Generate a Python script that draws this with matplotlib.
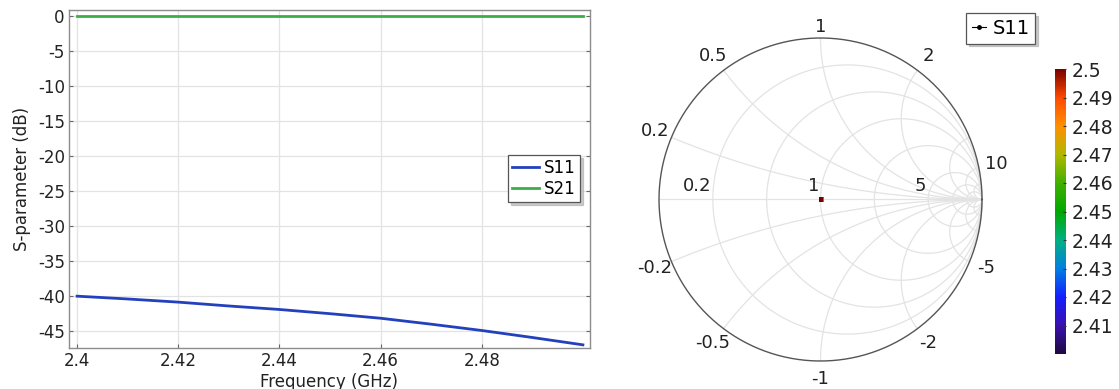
import numpy as np
import matplotlib
matplotlib.use("Agg")
import matplotlib.pyplot as plt
from matplotlib.colors import LinearSegmentedColormap, Normalize
from matplotlib.lines import Line2D
import matplotlib.cm as cm

plt.rcParams["font.family"] = ["DejaVu Sans"]
plt.rcParams["axes.unicode_minus"] = False

# S-parameter sweep
freq = [2.40, 2.41, 2.42, 2.43, 2.44, 2.45, 2.46, 2.47, 2.48, 2.49, 2.50]
s11_db = [-40.0, -40.4, -40.85, -41.4, -41.9, -42.5, -43.15, -44.0, -44.9, -45.9, -46.95]
s21_db = [-0.02, -0.02, -0.02, -0.02, -0.02, -0.02, -0.02, -0.02, -0.02, -0.02, -0.02]

y_ticks = [0, -5, -10, -15, -20, -25, -30, -35, -40, -45]
x_ticks = [2.40, 2.42, 2.44, 2.46, 2.48]
x_ticklabels = ["2.4", "2.42", "2.44", "2.46", "2.48"]

# Smith chart grid and labels
r_circles = [0.2, 0.5, 1, 2, 5, 10, 20]
x_arcs = [0.2, 0.5, 1, 2, 5, 10, 20]
r_labels = [0.2, 1, 5]
x_labels_up = [0.2, 0.5, 1, 2, 10]
x_labels_dn = [-0.2, -0.5, -1, -2, -5]

cbar_ticks = [2.41, 2.42, 2.43, 2.44, 2.45, 2.46, 2.47, 2.48, 2.49, 2.50]

BLUE = "#2340bd"
GREEN = "#3cae48"
GRID = "#e3e3e3"

rainbow = LinearSegmentedColormap.from_list("comsol_rainbow", [
    (0.0, "#1e0a40"), (0.1, "#3a10b0"), (0.2, "#1520ff"), (0.3, "#0080e0"),
    (0.4, "#00b080"), (0.5, "#00a800"), (0.6, "#40b000"), (0.7, "#b0b800"),
    (0.8, "#ff9000"), (0.9, "#ff4a00"), (1.0, "#7a0000")])
norm = Normalize(2.4, 2.5)

W, H = 1119, 389
fig = plt.figure(figsize=(W / 100, H / 100), dpi=100)
shadow = {"color": "0.7", "alpha": 0.7}

# ---- left: S-parameters vs frequency
ax = fig.add_axes([69 / W, 1 - 348 / H, 521 / W, 338 / H])
ax.plot(freq, s11_db, color=BLUE, lw=2.0, label="S11")
ax.plot(freq, s21_db, color=GREEN, lw=2.0, label="S21")
ax.set_xlim(2.3984, 2.5014)
ax.set_ylim(-47.4, 0.86)
ax.set_xticks(x_ticks)
ax.set_xticklabels(x_ticklabels)
ax.set_yticks(y_ticks)
ax.grid(True, color=GRID, lw=0.9)
ax.tick_params(direction="in", length=3, labelsize=12, color="#666666",
               labelcolor="#222222", right=True, pad=3)
for sp in ax.spines.values():
    sp.set_color("#8c8c8c")
    sp.set_linewidth(1.0)
ax.set_xlabel("Frequency (GHz)", fontsize=12, color="#222222", labelpad=2)
ax.set_ylabel("S-parameter (dB)", fontsize=12, color="#222222", labelpad=5)
leg = fig.legend(handles=ax.get_lines(), loc="upper left",
                 bbox_to_anchor=(508 / W, 1 - 155 / H), borderaxespad=0,
                 fontsize=12, handlelength=1.6, handletextpad=0.3,
                 borderpad=0.25, labelspacing=0.15, fancybox=False,
                 framealpha=1, edgecolor="#555555", shadow=shadow)
leg.get_frame().set_linewidth(0.9)

# ---- right: Smith chart
cx, cy, R = 820.5, 199.5, 161.5
L = 1.2
sm = fig.add_axes([(cx - R * L) / W, (H - cy - R * L) / H, 2 * R * L / W, 2 * R * L / H])
sm.set_xlim(-L, L)
sm.set_ylim(-L, L)
sm.axis("off")

t = np.linspace(0, 2 * np.pi, 600)
for r in r_circles:
    c, rad = r / (1 + r), 1 / (1 + r)
    sm.plot(c + rad * np.cos(t), rad * np.sin(t), color=GRID, lw=0.9, zorder=1)
rr = np.concatenate([[0.0], np.logspace(-3, 4, 800)])
for xv in x_arcs:
    for s in (1, -1):
        g = (rr + 1j * s * xv - 1) / (rr + 1j * s * xv + 1)
        sm.plot(g.real, g.imag, color=GRID, lw=0.9, zorder=1)
sm.plot([-1, 1], [0, 0], color=GRID, lw=0.9, zorder=1)
sm.plot(np.cos(t), np.sin(t), color="#555555", lw=1.0, zorder=2)

for r in r_labels:
    g = (r - 1) / (r + 1)
    sm.text(g - 0.01, 0.03, f"{r:g}", ha="right", va="bottom", fontsize=13,
            color="#222222")
for xv in x_labels_up + x_labels_dn:
    g = (1j * xv - 1) / (1j * xv + 1)
    ang = np.angle(g)
    rad = 1.07 if xv == 1 else 1.11
    sm.text(rad * np.cos(ang), rad * np.sin(ang), f"{xv:g}", ha="center",
            va="center", fontsize=13, color="#222222")

gamma = [10 ** (v / 20) for v in s11_db]
sm.scatter(gamma, np.zeros(len(gamma)), c=freq, cmap=rainbow, norm=norm,
           marker="s", s=10, linewidths=0, zorder=5)

proxy = Line2D([], [], color="black", lw=0.8, marker="o", markersize=2.5)
leg2 = fig.legend(handles=[proxy], labels=["S11"], loc="upper left",
                  bbox_to_anchor=(966 / W, 1 - 13 / H), borderaxespad=0,
                  fontsize=14, handlelength=0.75, handletextpad=0.3,
                  borderpad=0.3, fancybox=False, framealpha=1,
                  edgecolor="#555555", shadow=shadow)
leg2.get_frame().set_linewidth(0.9)

# ---- colorbar
cax = fig.add_axes([1055 / W, 1 - 354 / H, 11 / W, 285 / H])
cb = fig.colorbar(cm.ScalarMappable(norm=norm, cmap=rainbow), cax=cax)
cb.set_ticks(cbar_ticks)
cb.set_ticklabels([f"{v:g}" for v in cbar_ticks])
cb.outline.set_visible(False)
cax.tick_params(labelsize=13.5, length=2, direction="in", color="#333333",
                labelcolor="#222222", pad=4)

fig.savefig("out.png", dpi=100)
